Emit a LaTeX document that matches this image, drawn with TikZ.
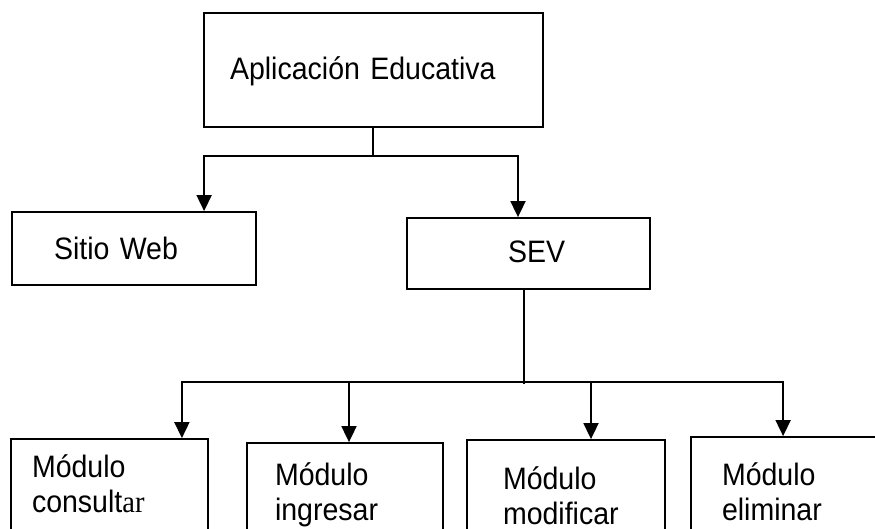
\documentclass[tikz,border=0pt]{standalone}
\usepackage{fontspec}
\setmainfont{Liberation Sans}[FakeStretch=0.92]
\newfontfamily\serifpart{Liberation Serif}[FakeStretch=0.92]
\usetikzlibrary{arrows.meta}

\tikzset{
  box/.style={draw, line width=1.8pt, align=left, inner ysep=0pt,
    font=\fontsize{31}{35}\selectfont},
  wire/.style={line width=1.8pt},
  arr/.style={line width=1.8pt, -{Triangle[width=15pt,length=16pt]}}
}

\begin{document}
\begin{tikzpicture}[x=1pt,y=1pt]
            \useasboundingbox (0,0) rectangle (875,-529);
            \clip (0,0) rectangle (875,-529);
            \node (app) [box, text width=287pt, inner xsep=26pt, text height=67pt, text depth=47pt] at (373.5,-70) {Aplicación Educativa};
            \node (web) [box, below of=app, node distance=178.5pt, xshift=-239.5pt, text width=160pt, inner xsep=42pt, text height=48pt, text depth=25pt] {Sitio Web};
            \node (sev) [box, below of=app, node distance=183.5pt, xshift=155pt, text width=41pt, inner xsep=101pt, text height=44pt, text depth=27pt] {SEV};
            \node (mod1) [box, below of=sev, node distance=250.5pt, xshift=-419pt, text width=155pt, inner xsep=21pt, text height=38pt, text depth=92pt] {Módulo\\consult{\serifpart ar}};
            \node (mod2) [box, right of=mod1, node distance=235.5pt, yshift=-4pt, text width=140pt, inner xsep=28pt, text height=42pt, text depth=88pt] {Módulo\\ingresar};
            \node (mod3) [box, right of=mod2, node distance=221pt, yshift=3pt, text width=126pt, inner xsep=36pt, text height=49pt, text depth=81pt] {Módulo\\modificar};
            \node (mod4) [box, right of=mod3, node distance=230pt, yshift=3pt, text width=148pt, inner xsep=31pt, text height=48pt, text depth=82pt] {Módulo\\eliminar};
            % first level
            \draw[wire] ([xshift=-0.5pt]app.south) -- ++(0,-28) coordinate (j1);
            \draw[arr] (j1) -| ([xshift=193pt]web.north west);
            \draw[arr] (j1) -| ([xshift=-10.5pt]sev.north);
            % second level
            \draw[wire] ([xshift=-4.5pt]sev.south) -- ++(0,-94) coordinate (j2);
            \draw[arr] ([yshift=2pt]j2) -| ([xshift=-27pt]mod1.north east);
            \draw[arr] ([yshift=2pt]j2) -| ([xshift=4pt]mod2.north);
            \draw[arr] ([yshift=2pt]j2) -| ([xshift=25pt]mod3.north);
            \draw[arr] ([yshift=2pt]j2) -| ([xshift=93pt]mod4.north west);
\end{tikzpicture}
\end{document}
